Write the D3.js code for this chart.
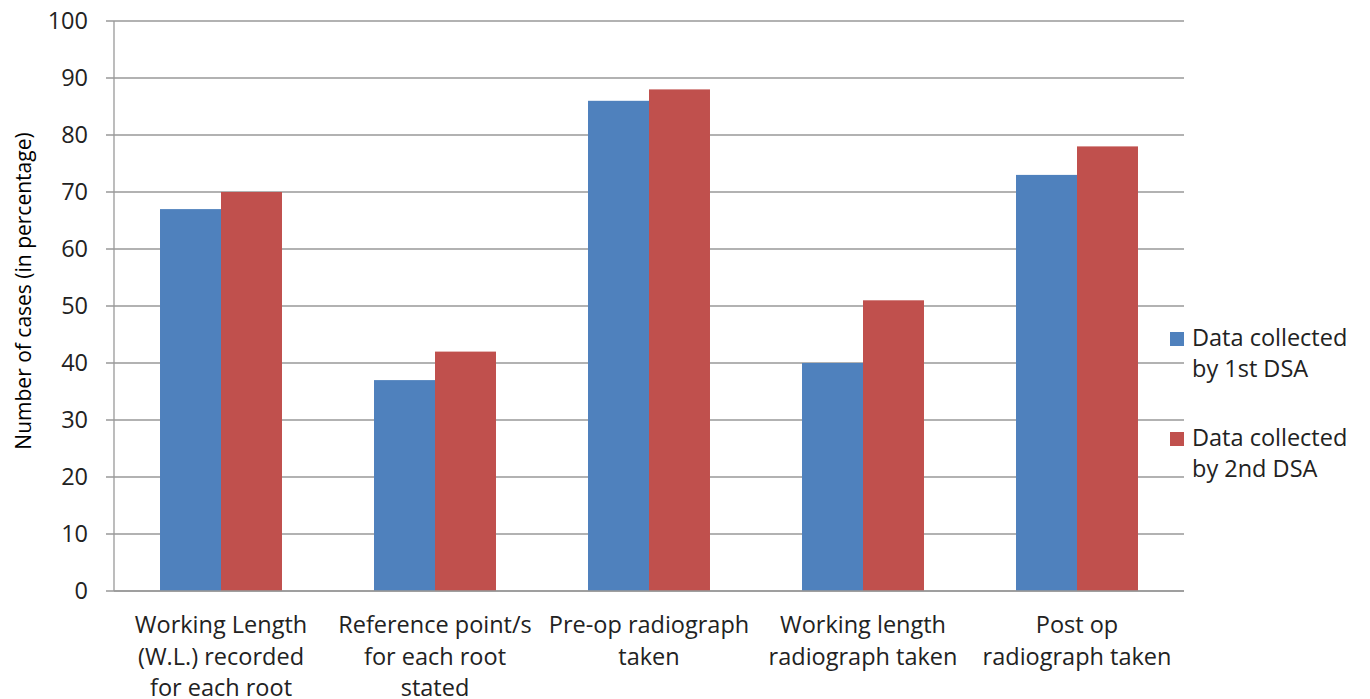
<!DOCTYPE html>
<html>
<head>
<meta charset="utf-8">
<script src="https://cdn.jsdelivr.net/npm/d3@7"></script>
<style>
  body { margin: 0; background: #fff; }
  text { font-family: "Open Sans", sans-serif; fill: #000; }
</style>
</head>
<body>
<div id="chart"></div>
<script>
// chart data
const categories = [
  ["Working Length", "(W.L.) recorded", "for each root"],
  ["Reference point/s", "for each root", "stated"],
  ["Pre-op radiograph", "taken"],
  ["Working length", "radiograph taken"],
  ["Post op", "radiograph taken"]
];
const series = ["Data collected by 1st DSA", "Data collected by 2nd DSA"];
const legendLines = [["Data collected", "by 1st DSA"], ["Data collected", "by 2nd DSA"]];
const firstDSA = [67, 37, 86, 40, 73];
const secondDSA = [70, 42, 88, 51, 78];
const yTicks = [0, 10, 20, 30, 40, 50, 60, 70, 80, 90, 100];
const colors = ["#4F81BD", "#C0504D"];

const width = 1370, height = 699;
const margin = { top: 21, right: 186, bottom: 108, left: 114 };
const innerW = width - margin.left - margin.right;
const innerH = height - margin.top - margin.bottom;

const svg = d3.select("#chart").append("svg")
  .attr("width", width)
  .attr("height", height);

const g = svg.append("g")
  .attr("transform", "translate(" + margin.left + "," + margin.top + ")");

const idx = categories.map((d, i) => i);

// scales
const x = d3.scaleBand()
  .domain(idx)
  .range([0, innerW])
  .paddingInner(0.43)
  .paddingOuter(0.215);

const xs = d3.scaleBand()
  .domain([0, 1])
  .range([0, x.bandwidth()]);

const y = d3.scaleLinear()
  .domain([0, 100])
  .range([innerH, 0]);

// gridlines + left ticks
g.selectAll(".grid")
  .data(yTicks)
  .enter()
  .append("line")
  .attr("x1", -8)
  .attr("x2", innerW)
  .attr("y1", d => y(d))
  .attr("y2", d => y(d))
  .attr("stroke", "#999")
  .attr("stroke-width", 1.3);

// y axis line
g.append("line")
  .attr("x1", 0).attr("x2", 0)
  .attr("y1", 0).attr("y2", innerH)
  .attr("stroke", "#999")
  .attr("stroke-width", 1.3);

// y tick labels
g.selectAll(".ylab")
  .data(yTicks)
  .enter()
  .append("text")
  .attr("x", -26)
  .attr("y", d => y(d))
  .attr("dy", "0.35em")
  .attr("text-anchor", "end")
  .style("font-size", "23.5px")
  .style("fill", "#222")
  .text(d => d);

// bars
const seriesData = [firstDSA, secondDSA];
seriesData.forEach(function (vals, s) {
  g.selectAll(".bar" + s)
    .data(vals)
    .enter()
    .append("rect")
    .attr("x", (d, i) => x(i) + xs(s))
    .attr("y", d => y(d))
    .attr("width", xs.bandwidth())
    .attr("height", d => innerH - y(d))
    .attr("fill", colors[s]);
});

// bottom axis line
g.append("line")
  .attr("x1", 0).attr("x2", innerW)
  .attr("y1", innerH).attr("y2", innerH)
  .attr("stroke", "#999")
  .attr("stroke-width", 1.3);

// category labels
const catLab = g.selectAll(".xlab")
  .data(categories)
  .enter()
  .append("text")
  .attr("text-anchor", "middle")
  .attr("transform", (d, i) => "translate(" + (x(i) + x.bandwidth() / 2) + "," + (innerH + 42) + ")")
  .style("font-size", "23.5px")
  .style("fill", "#222");

catLab.selectAll("tspan")
  .data(d => d)
  .enter()
  .append("tspan")
  .attr("x", 0)
  .attr("y", (d, i) => i * 31.5)
  .text(d => d);

// y title
svg.append("text")
  .attr("transform", "translate(31,291) rotate(-90)")
  .attr("text-anchor", "middle")
  .style("font-size", "21px")
  .text("Number of cases (in percentage)");

// legend
const leg = svg.selectAll(".leg")
  .data(series)
  .enter()
  .append("g")
  .attr("transform", (d, i) => "translate(1170," + (332 + i * 100) + ")");

leg.append("rect")
  .attr("width", 14)
  .attr("height", 14)
  .attr("fill", (d, i) => colors[i]);

leg.append("text")
  .attr("x", 22)
  .style("font-size", "23.5px")
  .style("fill", "#222")
  .selectAll("tspan")
  .data((d, i) => legendLines[i])
  .enter()
  .append("tspan")
  .attr("x", 22)
  .attr("y", (d, i) => 14 + i * 31)
  .text(d => d);
</script>
</body>
</html>
